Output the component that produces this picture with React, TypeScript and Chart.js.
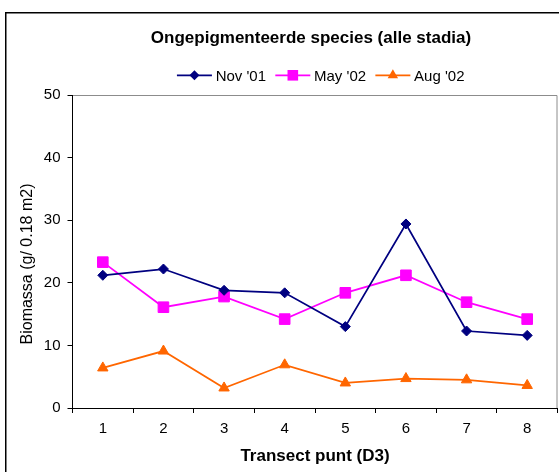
import React, { useEffect, useRef } from "react";
import { Chart, registerables } from "chart.js";

Chart.register(...registerables);

const categories = ["1", "2", "3", "4", "5", "6", "7", "8"];
const seriesNames = ["Nov '01", "May '02", "Aug '02"];
const nov01 = [21.2, 22.2, 18.8, 18.4, 13.0, 29.4, 12.3, 11.6];
const may02 = [23.3, 16.1, 17.8, 14.2, 18.4, 21.2, 16.9, 14.2];
const aug02 = [6.4, 9.1, 3.2, 6.9, 4.0, 4.7, 4.5, 3.6];
const yMin = 0;
const yMax = 50;
const yStep = 10;
const chartTitle = "Ongepigmenteerde species (alle stadia)";
const xTitle = "Transect punt (D3)";
const yTitle = "Biomassa (g/ 0.18 m2)";

const FONT = "'Liberation Sans', Arial, sans-serif";

function drawMarker(ctx: CanvasRenderingContext2D, style: string, x: number, y: number, r: number) {
  ctx.beginPath();
  if (style === "rectRot") {
    ctx.moveTo(x, y - r);
    ctx.lineTo(x + r, y);
    ctx.lineTo(x, y + r);
    ctx.lineTo(x - r, y);
  } else if (style === "rect") {
    const s = r * Math.SQRT1_2;
    ctx.rect(x - s, y - s, 2 * s, 2 * s);
  } else {
    const a = (2 * Math.PI) / 3;
    ctx.moveTo(x, y - r);
    ctx.lineTo(x + Math.sin(a) * r, y - Math.cos(a) * r);
    ctx.lineTo(x + Math.sin(2 * a) * r, y - Math.cos(2 * a) * r);
  }
  ctx.closePath();
  ctx.fill();
}

const decor = {
  id: "decor",
  beforeDraw(chart: any) {
    const ctx: CanvasRenderingContext2D = chart.ctx;
    const { left, right, top, bottom } = chart.chartArea;
    ctx.save();
    ctx.fillStyle = "#ffffff";
    ctx.fillRect(0, 0, chart.width, chart.height);
    // outer frame (cropped on right and bottom)
    ctx.fillStyle = "#000000";
    ctx.fillRect(5, 12, chart.width - 5, 1.5);
    ctx.fillRect(5, 12, 1.5, chart.height - 12);
    // plot area border top/right
    ctx.strokeStyle = "#8c8c8c";
    ctx.lineWidth = 1;
    ctx.beginPath();
    ctx.moveTo(left, top + 0.5);
    ctx.lineTo(right - 0.5, top + 0.5);
    ctx.lineTo(right - 0.5, bottom);
    ctx.stroke();
    // title
    ctx.fillStyle = "#000000";
    ctx.font = `bold 17px ${FONT}`;
    ctx.textAlign = "center";
    ctx.textBaseline = "alphabetic";
    ctx.fillText(chartTitle, 311, 42.5);
    // y title
    ctx.save();
    ctx.translate(28, 264);
    ctx.rotate(-Math.PI / 2);
    ctx.font = `16px ${FONT}`;
    ctx.textAlign = "center";
    ctx.textBaseline = "middle";
    ctx.fillText(yTitle, 0, 0);
    ctx.restore();
    // legend
    ctx.font = `15px ${FONT}`;
    const lineLen = 35;
    const gapText = 3.7;
    const gapItem = 9.3;
    const items = chart.data.datasets.map((ds: any) => ({
      label: ds.label,
      color: ds.borderColor,
      style: ds.pointStyle,
      r: ds.pointRadius,
      w: ctx.measureText(ds.label).width,
    }));
    let total = 0;
    items.forEach((it: any, i: number) => {
      total += lineLen + gapText + it.w + (i > 0 ? gapItem : 0);
    });
    let x = 320.7 - total / 2;
    const y = 75.3;
    items.forEach((it: any) => {
      ctx.strokeStyle = it.color;
      ctx.lineWidth = 1.75;
      ctx.beginPath();
      ctx.moveTo(x, y);
      ctx.lineTo(x + lineLen, y);
      ctx.stroke();
      ctx.fillStyle = it.color;
      drawMarker(ctx, it.style, x + lineLen / 2, y, it.r);
      ctx.fillStyle = "#000000";
      ctx.textAlign = "left";
      ctx.textBaseline = "alphabetic";
      ctx.fillText(it.label, x + lineLen + gapText, 81);
      x += lineLen + gapText + it.w + gapItem;
    });
    ctx.restore();
  },
};

export default function App() {
  const ref = useRef<HTMLCanvasElement | null>(null);
  useEffect(() => {
    if (!ref.current) return;
    const chart = new Chart(ref.current, {
      type: "line",
      data: {
        labels: categories,
        datasets: [
          {
            label: seriesNames[0],
            data: nov01,
            borderColor: "#000080",
            backgroundColor: "#000080",
            borderWidth: 1.75,
            pointStyle: "rectRot",
            pointRadius: 5,
            pointBorderWidth: 1,
            pointBorderColor: "#000080",
            pointBackgroundColor: "#000080",
            tension: 0,
          },
          {
            label: seriesNames[1],
            data: may02,
            borderColor: "#ff00ff",
            backgroundColor: "#ff00ff",
            borderWidth: 1.75,
            pointStyle: "rect",
            pointRadius: 7.5,
            pointBorderWidth: 1,
            pointBorderColor: "#ff00ff",
            pointBackgroundColor: "#ff00ff",
            tension: 0,
          },
          {
            label: seriesNames[2],
            data: aug02,
            borderColor: "#ff6600",
            backgroundColor: "#ff6600",
            borderWidth: 1.75,
            pointStyle: "triangle",
            pointRadius: 6,
            pointBorderWidth: 1,
            pointBorderColor: "#ff6600",
            pointBackgroundColor: "#ff6600",
            tension: 0,
          },
        ],
      },
      options: {
        responsive: false,
        animation: false,
        layout: { autoPadding: false, padding: { left: 0, top: 95, right: 1.5, bottom: 0 } },
        plugins: {
          legend: { display: false },
          title: { display: false },
          tooltip: { enabled: false },
        },
        scales: {
          x: {
            type: "category",
            offset: true,
            grid: {
              offset: true,
              drawOnChartArea: false,
              drawTicks: true,
              tickLength: 5,
              color: "#000000",
            },
            border: { display: true, color: "#000000", width: 1 },
            ticks: {
              color: "#000000",
              font: { family: FONT, size: 15 },
              padding: 7,
              maxRotation: 0,
              autoSkip: false,
            },
            title: {
              display: true,
              text: xTitle,
              color: "#000000",
              font: { family: FONT, size: 17, weight: "bold" },
              padding: { top: 0, bottom: 5 },
            },
            afterFit(scale: any) {
              scale.height = 64;
            },
          },
          y: {
            min: yMin,
            max: yMax,
            ticks: {
              stepSize: yStep,
              color: "#000000",
              font: { family: FONT, size: 15 },
              padding: 7,
            },
            grid: {
              drawOnChartArea: false,
              drawTicks: true,
              tickLength: 5,
              color: "#000000",
            },
            border: { display: true, color: "#000000", width: 1 },
            title: { display: false },
            afterFit(scale: any) {
              scale.width = 72.5;
            },
          },
        },
      },
      plugins: [decor],
    } as any);
    return () => chart.destroy();
  }, []);
  return (
    <div style={{ position: "absolute", left: 0, top: 0, width: 559, height: 472, background: "#fff" }}>
      <canvas ref={ref} width={559} height={472} style={{ display: "block" }} />
    </div>
  );
}
